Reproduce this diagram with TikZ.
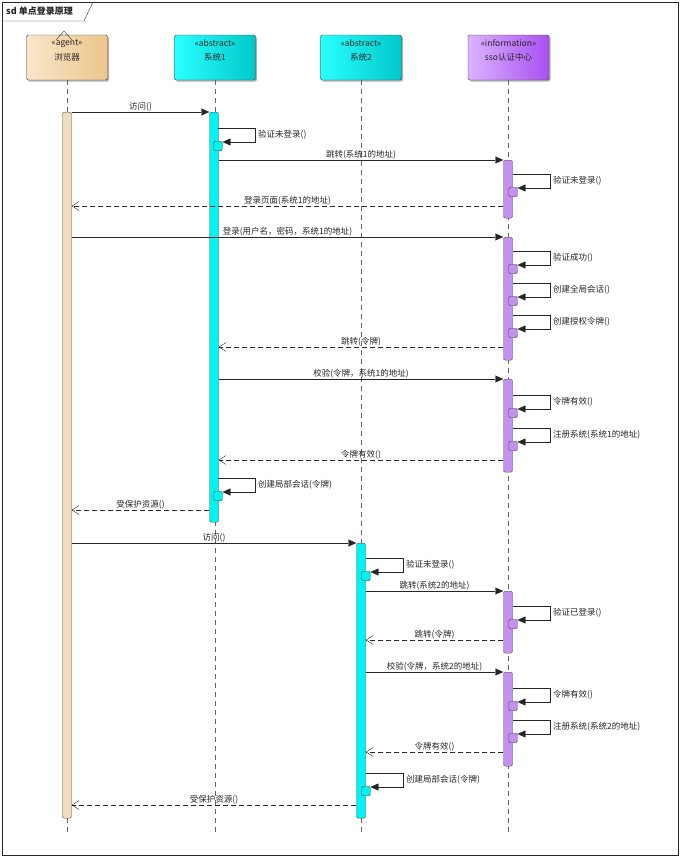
\documentclass[tikz,border=0pt]{standalone}
\usepackage{fontspec}
\newfontfamily\cjk{Noto Sans CJK SC}
\usetikzlibrary{arrows.meta,shadows}
\definecolor{browserL}{HTML}{F8E6CC}
\definecolor{browserR}{HTML}{EDC68A}
\definecolor{sysL}{HTML}{2AFFFF}
\definecolor{sysR}{HTML}{00C8CA}
\definecolor{ssoL}{HTML}{DDB2FF}
\definecolor{ssoR}{HTML}{A850F0}
\definecolor{browserbar}{HTML}{F2DCBE}
\definecolor{sysbar}{HTML}{00F4F4}
\definecolor{ssobar}{HTML}{C690F0}
\tikzset{
	every node/.style={font=\cjk\fontsize{8.5}{10}\selectfont, inner sep=1pt, text=black!85},
	head/.style={draw=black!75, rounded corners=1.5pt, minimum width=81pt, minimum height=45pt, drop shadow={shadow xshift=1.5pt, shadow yshift=-1.5pt, fill=black, opacity=0.3}},
	life/.style={draw=black!60, dash pattern=on 5pt off 4pt},
	actbar/.style={draw=black!70, rounded corners=2pt, minimum width=9pt, anchor=north, inner sep=0pt},
	nest/.style={draw=black!70, rounded corners=1.5pt, minimum width=8.5pt, minimum height=9.5pt, inner sep=0pt},
	call/.style={black!85, -{Triangle[length=8pt, width=7pt]}},
	reply/.style={black!85, dash pattern=on 5pt off 3pt, -{Straight Barb[length=7pt, width=9pt]}}
}
\begin{document}
\begin{tikzpicture}[x=1pt, y=-1pt]
	\useasboundingbox (0,0) rectangle (682,860);
	\draw[black!85] (2,2) rectangle (678,855);
	\draw[black!85] (2,21) -- (84,21) -- (93,2);
	\node[anchor=west, font=\cjk\bfseries\fontsize{9}{10}\selectfont] (title) at (5,11.5) {sd 单点登录原理};

	\node[head, left color=browserL, right color=browserR, label={[name=browserst, anchor=north, yshift=-3.5pt]north:«agent»}] (browser) at (67,57.5) {浏览器};
	\node[head, left color=sysL, right color=sysR, label={[name=sysAst, anchor=north, yshift=-3.5pt]north:«abstract»}] (sysA) at (215,57.5) {系统1};
	\node[head, left color=sysL, right color=sysR, label={[name=sysBst, anchor=north, yshift=-3.5pt]north:«abstract»}] (sysB) at (361,57.5) {系统2};
	\node[head, left color=ssoL, right color=ssoR, label={[name=ssost, anchor=north, yshift=-3.5pt]north:«information»}] (sso) at (508.5,57.5) {sso认证中心};
	\draw[black!80] (56,40) -- (64,31) -- (72,40) (59,35) -- (69,35);

	\draw[life] (browser.south) -- (browser.south |- 0,833);
	\draw[life] (sysA.south) -- (sysA.south |- 0,833);
	\draw[life] (sysB.south) -- (sysB.south |- 0,833);
	\draw[life] (sso.south) -- (sso.south |- 0,833);

	\node[actbar, fill=browserbar, minimum height=706pt] (bact) at (67,112) {};
	\node[actbar, fill=sysbar, minimum height=410pt] (a1) at (214,112) {};
	\node[actbar, fill=sysbar, minimum height=275pt] (a2) at (361,543) {};
	\node[actbar, fill=ssobar, minimum height=58pt] (c1) at (508,160) {};
	\node[actbar, fill=ssobar, minimum height=123pt] (c2) at (508,237) {};
	\node[actbar, fill=ssobar, minimum height=93pt] (c3) at (508,379) {};
	\node[actbar, fill=ssobar, minimum height=62pt] (c4) at (508,591) {};
	\node[actbar, fill=ssobar, minimum height=94pt] (c5) at (508,672) {};

	\foreach \x/\y/\c/\txt [count=\i] in {218/128/sysbar/验证未登录(), 218/478/sysbar/创建局部会话(令牌), 366/558/sysbar/验证未登录(), 366/773/sysbar/创建局部会话(令牌), 513/174/ssobar/验证未登录(), 513/251/ssobar/验证成功(), 513/283/ssobar/创建全局会话(), 513/315/ssobar/创建授权令牌(), 513/395/ssobar/令牌有效(), 513/428/ssobar/注册系统(系统1的地址), 513/606/ssobar/验证已登录(), 513/688/ssobar/令牌有效(), 513/720/ssobar/注册系统(系统2的地址)} {
		\node[nest, fill=\c] (nest\i) at (\x,\y+18) {};
		\draw[call] (nest\i.north |- 0,\y) -- ++(37,0) -- node[right=2pt] {\txt} ++(0,14) -- (nest\i.east |- 0,\y+14);
	}

	\draw[call] (bact.east |- 0,112) -- node[above] {访问()} (a1.west |- 0,112);
	\draw[call] (a1.east |- 0,160) -- node[above] {跳转(系统1的地址)} (c1.west |- 0,160);
	\draw[reply] (c1.west |- 0,206) -- node[above] {登录页面(系统1的地址)} (bact.east |- 0,206);
	\draw[call] (bact.east |- 0,237) -- node[above] {登录(用户名，密码，系统1的地址)} (c2.west |- 0,237);
	\draw[reply] (c2.west |- 0,347) -- node[above] {跳转(令牌)} (a1.east |- 0,347);
	\draw[call] (a1.east |- 0,379) -- node[above] {校验(令牌，系统1的地址)} (c3.west |- 0,379);
	\draw[reply] (c3.west |- 0,460) -- node[above] {令牌有效()} (a1.east |- 0,460);
	\draw[reply] (a1.west |- 0,510) -- node[above] {受保护资源()} (bact.east |- 0,510);
	\draw[call] (bact.east |- 0,543) -- node[above] {访问()} (a2.west |- 0,543);
	\draw[call] (a2.east |- 0,591) -- node[above] {跳转(系统2的地址)} (c4.west |- 0,591);
	\draw[reply] (c4.west |- 0,640) -- node[above] {跳转(令牌)} (a2.east |- 0,640);
	\draw[call] (a2.east |- 0,672) -- node[above] {校验(令牌，系统2的地址)} (c5.west |- 0,672);
	\draw[reply] (c5.west |- 0,752) -- node[above] {令牌有效()} (a2.east |- 0,752);
	\draw[reply] (a2.west |- 0,805) -- node[above] {受保护资源()} (bact.east |- 0,805);
\end{tikzpicture}
\end{document}
